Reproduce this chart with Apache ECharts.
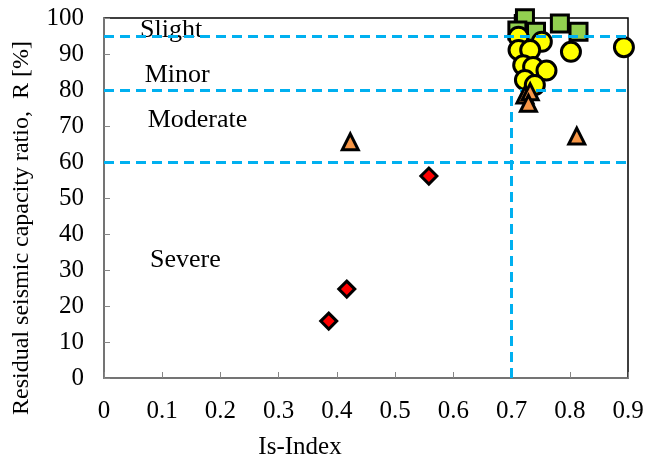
<!DOCTYPE html>
<html>
<head>
<meta charset="utf-8">
<script src="https://cdn.jsdelivr.net/npm/echarts@6/dist/echarts.min.js"></script>
<style>
  html, body { margin: 0; padding: 0; background: #fff; }
  #chart { width: 656px; height: 461px; }
</style>
</head>
<body>
<div id="chart"></div>
<script>
(function () {

  ///////////////////////////////////////////////////////////////////
  // data
  ///////////////////////////////////////////////////////////////////
  var severeX = [0.386, 0.417, 0.558];
  var severeY = [15.8, 24.7, 56.1];

  var moderateX = [0.423, 0.812, 0.723, 0.732, 0.729];
  var moderateY = [65.6, 67.2, 78.6, 79.5, 76.3];

  var slightX = [0.721, 0.723, 0.710, 0.742, 0.783, 0.815];
  var slightY = [98.3, 99.9, 96.5, 96.2, 98.5, 96.2];

  var minorX = [0.712, 0.752, 0.712, 0.732, 0.802, 0.893, 0.720, 0.737, 0.760, 0.723, 0.740];
  var minorY = [94.8, 93.4, 91.1, 91.1, 90.6, 91.9, 86.9, 86.4, 85.4, 82.8, 81.4];

  var limitY = [95, 80, 60];
  var limitX = 0.7;

  var zoneNames = ['Slight', 'Minor', 'Moderate', 'Severe'];
  var zoneX = [0.062, 0.07, 0.075, 0.079];
  var zoneY = [96.7, 84.2, 71.7, 32.8];

  function pairs(xs, ys) {
    var out = [];
    for (var i = 0; i < xs.length; i++) out.push([xs[i], ys[i]]);
    return out;
  }

  var font = '"Liberation Serif", "Times New Roman", serif';
  var blue = '#00B0F0';

  var myChart = echarts.init(document.getElementById('chart'), null, { renderer: 'canvas' });

  var hLines = limitY.map(function (v) { return { yAxis: v }; });

  var option = {
    animation: false,
    textStyle: { fontFamily: font },
    grid: {
      left: 104, right: 28, top: 18, bottom: 83,
      show: true, borderColor: '#000', borderWidth: 1.5
    },
    xAxis: {
      type: 'value', min: 0, max: 0.9, interval: 0.1,
      axisLine: { lineStyle: { color: '#868686', width: 1.5 } },
      axisTick: { show: true, inside: true, length: 6, lineStyle: { color: '#868686' } },
      axisLabel: { color: '#000', fontSize: 25, fontFamily: font, margin: 21 },
      splitLine: { show: false }
    },
    yAxis: {
      type: 'value', min: 0, max: 100, interval: 10,
      axisLine: { show: true, lineStyle: { color: '#868686', width: 1.5 } },
      axisTick: { show: true, inside: true, length: 6, lineStyle: { color: '#868686' } },
      axisLabel: { color: '#000', fontSize: 25, fontFamily: font, margin: 20 },
      splitLine: { show: false }
    },
    graphic: [
      {
        type: 'text', x: 22, y: 228, rotation: Math.PI / 2,
        style: {
          text: 'Residual seismic capacity ratio,  R [%]',
          fontSize: 24, fontFamily: font, fill: '#000',
          align: 'center', verticalAlign: 'middle'
        }
      },
      {
        type: 'text', x: 300, y: 447,
        style: {
          text: 'Is-Index', fontSize: 25, fontFamily: font, fill: '#000',
          align: 'center', verticalAlign: 'middle'
        }
      }
    ],
    series: [
      {
        // limit lines
        type: 'scatter', data: [], z: 1,
        markLine: {
          silent: true, symbol: 'none', animation: false,
          label: { show: false },
          lineStyle: { color: blue, width: 3, type: [10, 6], opacity: 1 },
          data: hLines.concat([[{ coord: [limitX, 0] }, { coord: [limitX, limitY[1]] }]])
        }
      },
      {
        // zone names
        type: 'scatter', symbolSize: 0, z: 2,
        itemStyle: { opacity: 1 },
        data: pairs(zoneX, zoneY).map(function (p, i) {
          return { value: p, name: zoneNames[i] };
        }),
        label: {
          show: true, position: 'right', distance: 0,
          formatter: '{b}', color: '#000', fontSize: 26, fontFamily: font
        }
      },
      {
        type: 'scatter', name: 'Severe', symbol: 'diamond', symbolSize: 16, z: 3,
        itemStyle: { color: '#FF0000', borderColor: '#000', borderWidth: 3, opacity: 1 },
        data: pairs(severeX, severeY)
      },
      {
        type: 'scatter', name: 'Slight', symbol: 'rect', symbolSize: 17, z: 3,
        itemStyle: { color: '#92D050', borderColor: '#000', borderWidth: 3, opacity: 1 },
        data: pairs(slightX, slightY)
      },
      {
        type: 'scatter', name: 'Minor', symbol: 'circle', symbolSize: 19, z: 4,
        itemStyle: { color: '#FFFF00', borderColor: '#000', borderWidth: 3, opacity: 1 },
        data: pairs(minorX, minorY)
      },
      {
        type: 'scatter', name: 'Moderate', symbol: 'triangle', symbolSize: 16, z: 5,
        itemStyle: { color: '#F79646', borderColor: '#000', borderWidth: 3, opacity: 1 },
        data: pairs(moderateX, moderateY)
      }
    ]
  };

  myChart.setOption(option);
}());
</script>
</body>
</html>
